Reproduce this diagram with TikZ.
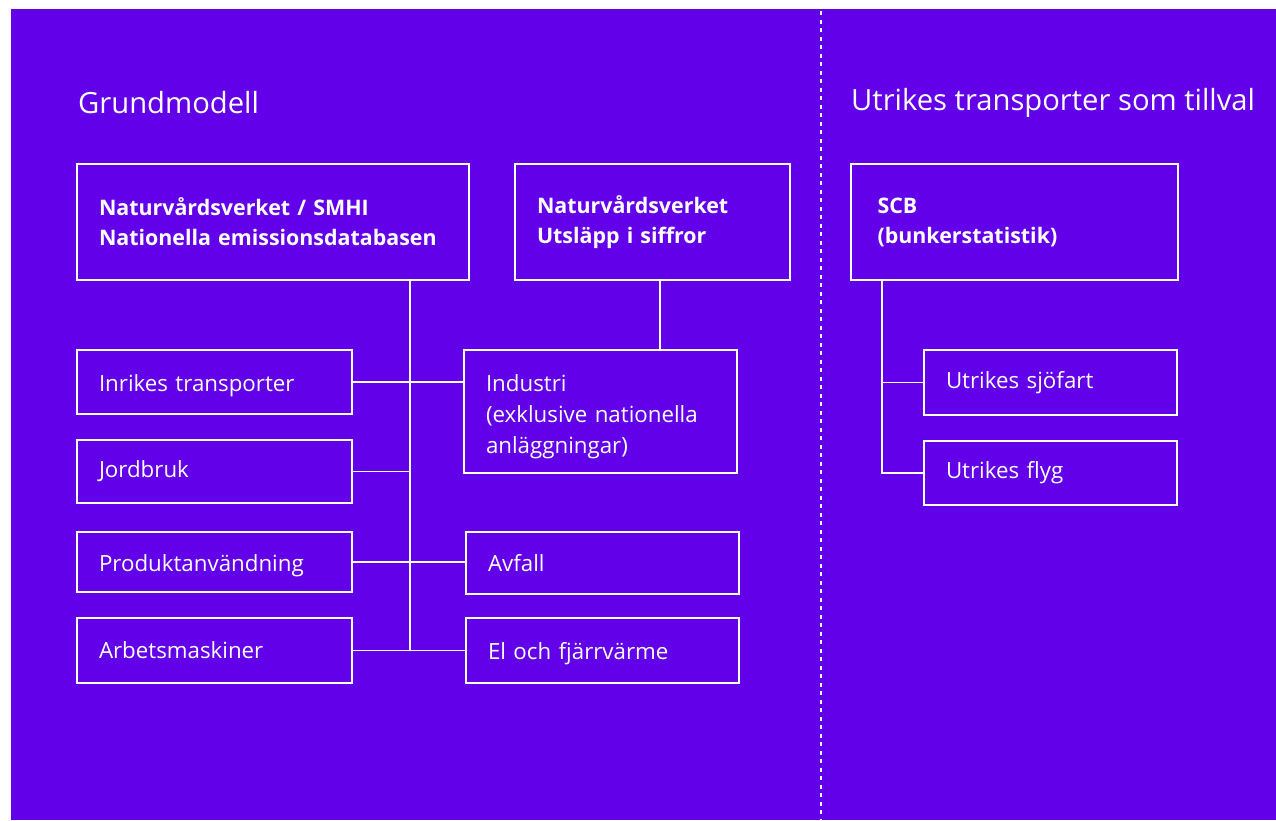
\documentclass[tikz,border=0pt]{standalone}
\usepackage{fontspec}
\setmainfont{Open Sans}
\definecolor{bgpurple}{RGB}{98,0,234}
\begin{document}
\begin{tikzpicture}[x=1pt,y=-1pt,
  box/.style={draw=white, line width=2pt, rectangle, inner ysep=0pt, inner xsep=22pt,
    align=left, text=white, font=\fontsize{22.3}{30}\selectfont},
  topbox/.style={box, font=\fontsize{21.4}{30}\selectfont\bfseries},
  conn/.style={draw=white, line width=1.6pt},
  heading/.style={anchor=west, inner sep=0pt, text=white, font=\fontsize{29.2}{32}\selectfont}]
\useasboundingbox (0,0) rectangle (1276,820);
\fill[white] (0,0) rectangle (1276,820);
\fill[bgpurple] (11,9) rectangle (1276,820);
\draw[white, line width=2.2pt, dash pattern=on 4pt off 4.5pt] (821,11) -- (821,820);

\node[heading] (h1) at (78,103) {Grundmodell};
\node[heading] (h2) at (851,103) {Utrikes transporter som tillval};

\node[topbox, text width=348pt, minimum height=116pt] (A) at (273,222)
  {Naturvårdsverket / SMHI\\Nationella emissionsdatabasen};
\node[topbox, text width=231pt, minimum height=116pt] (B) at (652.5,222)
  {Naturvårdsverket\\Utsläpp i siffror};
\node[topbox, inner xsep=27pt, text width=273pt, minimum height=116pt] (scb) at (1014,222)
  {SCB\\(bunkerstatistik)};

\node[box, text width=231pt, minimum height=64pt] (inrikes) at (214.5,382) {\rule{0pt}{25pt}Inrikes transporter};
\node[box, text width=231pt, minimum height=63pt] (jord) at (214.5,471.5) {Jordbruk};
\node[box, text width=231pt, minimum height=60pt] (prod) at (214.5,562) {\rule{0pt}{25pt}Produktanvändning};
\node[box, text width=231pt, minimum height=65pt] (arb) at (214.5,650.5) {Arbetsmaskiner};

\node[box, text width=229pt, minimum height=123pt, font=\fontsize{22.3}{31}\selectfont] (ind) at (600.5,411.5)
  {\rule{0pt}{28pt}Industri\\(exklusive nationella\\anläggningar)};
\node[box, text width=229pt, minimum height=62pt] (avf) at (602.5,563) {Avfall};
\node[box, text width=229pt, minimum height=65pt] (el) at (602.5,650.5) {\rule{0pt}{24pt}El och fjärrvärme};

\node[box, text width=209pt, minimum height=65pt] (sjo) at (1050.5,382.5) {Utrikes sjöfart};
\node[box, text width=209pt, minimum height=64pt] (flyg) at (1050.5,473) {Utrikes flyg};

\coordinate (trunk) at (410,650.5);
\coordinate (rtrunk) at (882,473);

\draw[conn] (A.south -| trunk) -- (trunk);
\draw[conn] (inrikes.east) -- (inrikes.east -| ind.west);
\draw[conn] (jord.east) -- (jord.east -| trunk);
\draw[conn] (prod.east) -- (prod.east -| avf.west);
\draw[conn] (arb.east) -- (arb.east -| el.west);
\draw[conn] ([xshift=7.5pt]B.south) -- ([xshift=7.5pt]B.south |- ind.north);

\draw[conn] (scb.south -| rtrunk) -- (rtrunk) -- (flyg.west);
\draw[conn] (sjo.west) -- (sjo.west -| rtrunk);
\end{tikzpicture}
\end{document}
